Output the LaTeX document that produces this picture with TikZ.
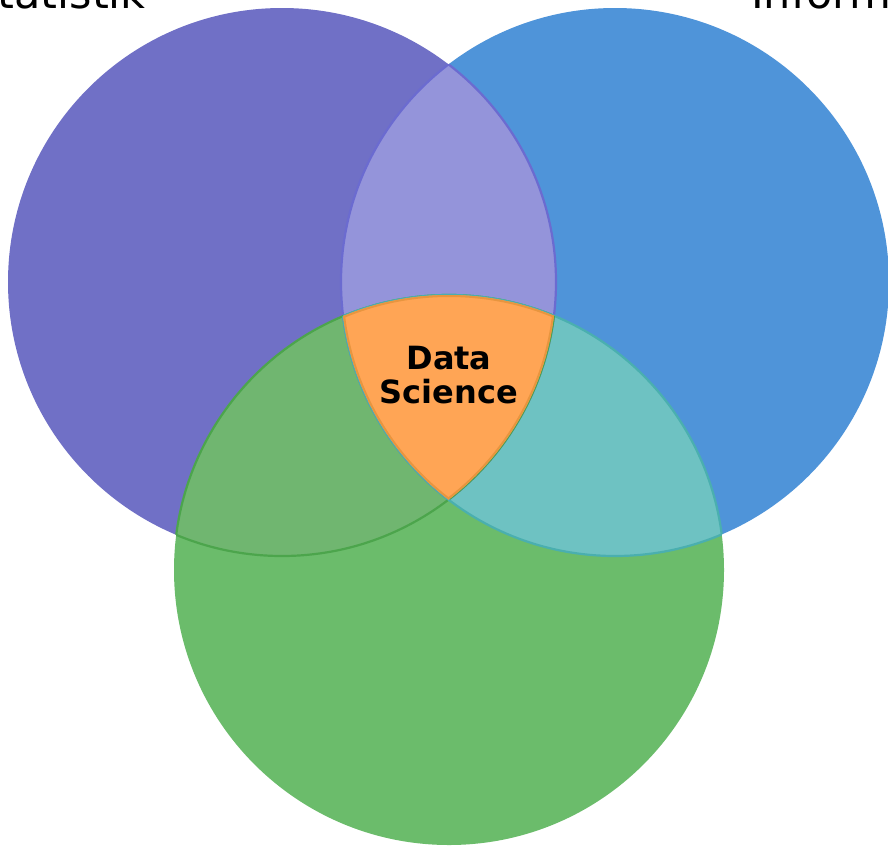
\documentclass[tikz,border=0pt]{standalone}
\usepackage{fontspec}
\setmainfont{DejaVu Sans}

\definecolor{stat}{HTML}{7070C6}
\definecolor{info}{HTML}{4F94D9}
\definecolor{fach}{HTML}{6BBC6B}
\definecolor{statinfo}{HTML}{9494DA}
\definecolor{statfach}{HTML}{70B670}
\definecolor{infofach}{HTML}{6EC2C2}
\definecolor{dsfill}{HTML}{FFA555}
\definecolor{statinfoline}{HTML}{6B6BD0}
\definecolor{statfachline}{HTML}{4CA54C}
\definecolor{infofachline}{HTML}{4AAFAF}
\definecolor{dsline}{HTML}{E8953F}

\begin{document}
\begin{tikzpicture}[x=1pt, y=-1pt,
    lbl/.style={font=\fontsize{43}{52}\selectfont, inner sep=0pt},
    rim/.style={line width=2.2pt}]

        \useasboundingbox (0, 0) rectangle (888, 846);
        \clip (0, 0) rectangle (888, 846);

        % circle centres
        \coordinate (cstat) at (282, 282);
        \coordinate (cinfo) at (615, 282);
        \coordinate (cfach) at (449, 570);

        \fill[stat](cstat) circle[radius=274pt];
        \fill[info](cinfo) circle[radius=274pt];
        \fill[fach](cfach) circle[radius=275pt];

        % two-set overlaps
        \begin{scope}
            \clip(cstat) circle[radius=274pt];
            \fill[statinfo](cinfo) circle[radius=274pt];
            \fill[statfach](cfach) circle[radius=275pt];
            \draw[rim, statinfoline](cinfo) circle[radius=274pt];
            \draw[rim, statfachline](cfach) circle[radius=275pt];
        \end{scope}
        \begin{scope}
            \clip(cinfo) circle[radius=274pt];
            \fill[infofach](cfach) circle[radius=275pt];
            \draw[rim, statinfoline](cstat) circle[radius=274pt];
            \draw[rim, infofachline](cfach) circle[radius=275pt];
        \end{scope}
        \begin{scope}
            \clip(cfach) circle[radius=275pt];
            \draw[rim, statfachline](cstat) circle[radius=274pt];
            \draw[rim, infofachline](cinfo) circle[radius=274pt];
        \end{scope}

        % centre, rim drawn inside the clip
        \begin{scope}
            \clip(cstat) circle[radius=274pt];
            \clip(cinfo) circle[radius=274pt];
            \clip(cfach) circle[radius=275pt];
            \fill[dsfill](cfach) circle[radius=275pt];
            \draw[dsline, line width=4pt](cfach) circle[radius=275pt];
            \draw[dsline, line width=4pt](cstat) circle[radius=274pt];
            \draw[dsline, line width=4pt](cinfo) circle[radius=274pt];
        \end{scope}

        \node[font=\bfseries\fontsize{32}{34}\selectfont, align=center] (ds) at(449, 375){Data\\Science};

        \node[lbl, anchor=base east] (stattext) at(146, 8){Statistik};
        \node[lbl, anchor=base west] (infotext) at(751, 8){Informatik};

    \end{tikzpicture}
\end{document}
